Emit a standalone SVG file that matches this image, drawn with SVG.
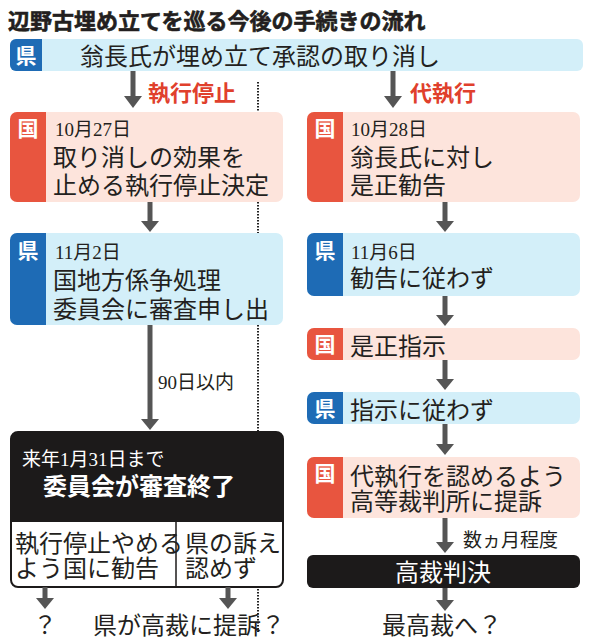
<svg xmlns="http://www.w3.org/2000/svg" width="593" height="640" viewBox="0 0 593 640">
<style>
.bg{fill:#ffffff}
.blue{fill:#d3eff9}
.pink{fill:#fde4dc}
.tabB{fill:#1e6bb5}
.tabR{fill:#e8553f}
.dark{fill:#1c1a1a}
.tab{font-family:"Noto Sans CJK JP","Noto Sans",sans-serif;font-weight:bold;fill:#ffffff;font-size:21px;text-anchor:middle}
.t{font-family:"Noto Sans CJK JP","Noto Sans",sans-serif;fill:#231f20;font-size:24px}
.d{font-family:"Liberation Serif","Noto Sans CJK JP",serif;fill:#231f20;font-size:19px}
.w{fill:#ffffff}
.red{font-family:"Noto Sans CJK JP",sans-serif;font-weight:bold;fill:#e0402c;font-size:22px}
.conn line{stroke:#555555;stroke-width:5}
.conn polygon{fill:#555555}
</style>
<rect class="bg" width="593" height="640"/>
<text x="8" y="29" font-family="'Noto Sans CJK JP',sans-serif" font-weight="bold" font-size="22" fill="#231f20" stroke="#231f20" stroke-width="0.6">辺野古埋め立てを巡る今後の手続きの流れ</text>

<g id="top">
<rect class="blue" x="10" y="39" width="573" height="32" rx="6"/>
<path class="tabB" d="M16 39H42V71H16A6 6 0 0 1 10 65V45A6 6 0 0 1 16 39Z"/>
<text class="tab" x="26" y="63">県</text>
<text class="t" x="260" y="65" font-size="22" text-anchor="middle">翁長氏が埋め立て承認の取り消し</text>
</g>

<g id="labels">
<text class="red" x="148" y="101">執行停止</text>
<text class="red" x="410" y="101">代執行</text>
<text class="d" x="158" y="389" font-size="20">90日以内</text>
<text class="d" x="463" y="547" font-size="20">数ヵ月程度</text>
</g>

<line x1="258" y1="82" x2="258" y2="632" stroke="#222" stroke-width="2" stroke-dasharray="1.5 1.5"/>

<g id="L1">
<rect class="pink" x="10" y="112" width="273" height="90" rx="7"/>
<path class="tabR" d="M17 112H46V202H17A7 7 0 0 1 10 195V119A7 7 0 0 1 17 112Z"/>
<text class="tab" x="28" y="136">国</text>
<text class="d" x="55" y="136">10月27日</text>
<text class="t" x="53" y="166">取り消しの効果を<tspan x="53" dy="28">止める執行停止決定</tspan></text>
</g>

<g id="L2">
<rect class="blue" x="10" y="233" width="273" height="92" rx="7"/>
<path class="tabB" d="M17 233H46V325H17A7 7 0 0 1 10 318V240A7 7 0 0 1 17 233Z"/>
<text class="tab" x="28" y="258">県</text>
<text class="d" x="55" y="259">11月2日</text>
<text class="t" x="53" y="289">国地方係争処理<tspan x="53" dy="29">委員会に審査申し出</tspan></text>
</g>

<g id="L3">
<rect x="11" y="432" width="272" height="155" rx="7" fill="#ffffff" stroke="#1c1a1a" stroke-width="2"/>
<path class="dark" d="M18 432H276A7 7 0 0 1 283 439V522H11V439A7 7 0 0 1 18 432Z"/>
<line x1="176" y1="522" x2="176" y2="587" stroke="#1c1a1a" stroke-width="1.5"/>
<text class="d w" x="22" y="466" font-size="22">来年1月31日まで</text>
<text class="t w" x="43" y="495" font-size="25" font-weight="bold">委員会が審査終了</text>
<text class="t" x="15" y="552" font-size="21.5">執行停止やめる<tspan x="15" dy="25">よう国に勧告</tspan></text>
<text class="t" x="185" y="552" font-size="23">県の訴え<tspan x="185" dy="25">認めず</tspan></text>
</g>

<g id="L4">
<text class="t" x="45" y="634" text-anchor="middle">？</text>
</g>
<g id="L5">
<text class="t" x="93" y="634">県が高裁に提訴？</text>
</g>

<g id="R1">
<rect class="pink" x="307" y="112" width="273" height="90" rx="7"/>
<path class="tabR" d="M314 112H343V202H314A7 7 0 0 1 307 195V119A7 7 0 0 1 314 112Z"/>
<text class="tab" x="325" y="136">国</text>
<text class="d" x="351" y="136">10月28日</text>
<text class="t" x="350" y="166">翁長氏に対し<tspan x="350" dy="28">是正勧告</tspan></text>
</g>

<g id="R2">
<rect class="blue" x="307" y="233" width="273" height="63" rx="7"/>
<path class="tabB" d="M314 233H343V296H314A7 7 0 0 1 307 289V240A7 7 0 0 1 314 233Z"/>
<text class="tab" x="325" y="258">県</text>
<text class="d" x="351" y="259">11月6日</text>
<text class="t" x="350" y="287">勧告に従わず</text>
</g>

<g id="R3">
<rect class="pink" x="307" y="328" width="273" height="32" rx="7"/>
<path class="tabR" d="M314 328H343V360H314A7 7 0 0 1 307 353V335A7 7 0 0 1 314 328Z"/>
<text class="tab" x="325" y="352">国</text>
<text class="t" x="350" y="355">是正指示</text>
</g>

<g id="R4">
<rect class="blue" x="307" y="392" width="273" height="32" rx="7"/>
<path class="tabB" d="M314 392H343V424H314A7 7 0 0 1 307 417V399A7 7 0 0 1 314 392Z"/>
<text class="tab" x="325" y="416">県</text>
<text class="t" x="350" y="419">指示に従わず</text>
</g>

<g id="R5">
<rect class="pink" x="307" y="457" width="273" height="61" rx="7"/>
<path class="tabR" d="M314 457H343V518H314A7 7 0 0 1 307 511V464A7 7 0 0 1 314 457Z"/>
<text class="tab" x="325" y="481">国</text>
<text class="t" x="350" y="485">代執行を認めるよう<tspan x="350" dy="25">高等裁判所に提訴</tspan></text>
</g>

<g id="R6">
<rect class="dark" x="307" y="555" width="273" height="33" rx="6"/>
<text class="t w" x="443" y="581" text-anchor="middle">高裁判決</text>
</g>

<g id="R7">
<text class="t" x="382" y="634">最高裁へ？</text>
</g>

<g id="connectors" class="conn">
<line x1="133" y1="71" x2="133" y2="97"/><polygon points="124,96 142,96 133,108"/>
<line x1="393" y1="71" x2="393" y2="97"/><polygon points="384,96 402,96 393,108"/>
<line x1="150" y1="202" x2="150" y2="222"/><polygon points="141,221 159,221 150,232"/>
<line x1="150" y1="325" x2="150" y2="420"/><polygon points="141,419 159,419 150,430"/>
<line x1="445" y1="202" x2="445" y2="222"/><polygon points="436,221 454,221 445,232"/>
<line x1="445" y1="296" x2="445" y2="316"/><polygon points="436,315 454,315 445,326"/>
<line x1="445" y1="360" x2="445" y2="380"/><polygon points="436,379 454,379 445,390"/>
<line x1="445" y1="424" x2="445" y2="445"/><polygon points="436,444 454,444 445,455"/>
<line x1="445" y1="518" x2="445" y2="543"/><polygon points="436,542 454,542 445,553"/>
<line x1="445" y1="588" x2="445" y2="601"/><polygon points="436,600 454,600 445,611"/>
<line x1="45" y1="587" x2="45" y2="599"/><polygon points="36,598 54,598 45,609"/>
<line x1="228" y1="587" x2="228" y2="599"/><polygon points="219,598 237,598 228,609"/>
</g>
</svg>
